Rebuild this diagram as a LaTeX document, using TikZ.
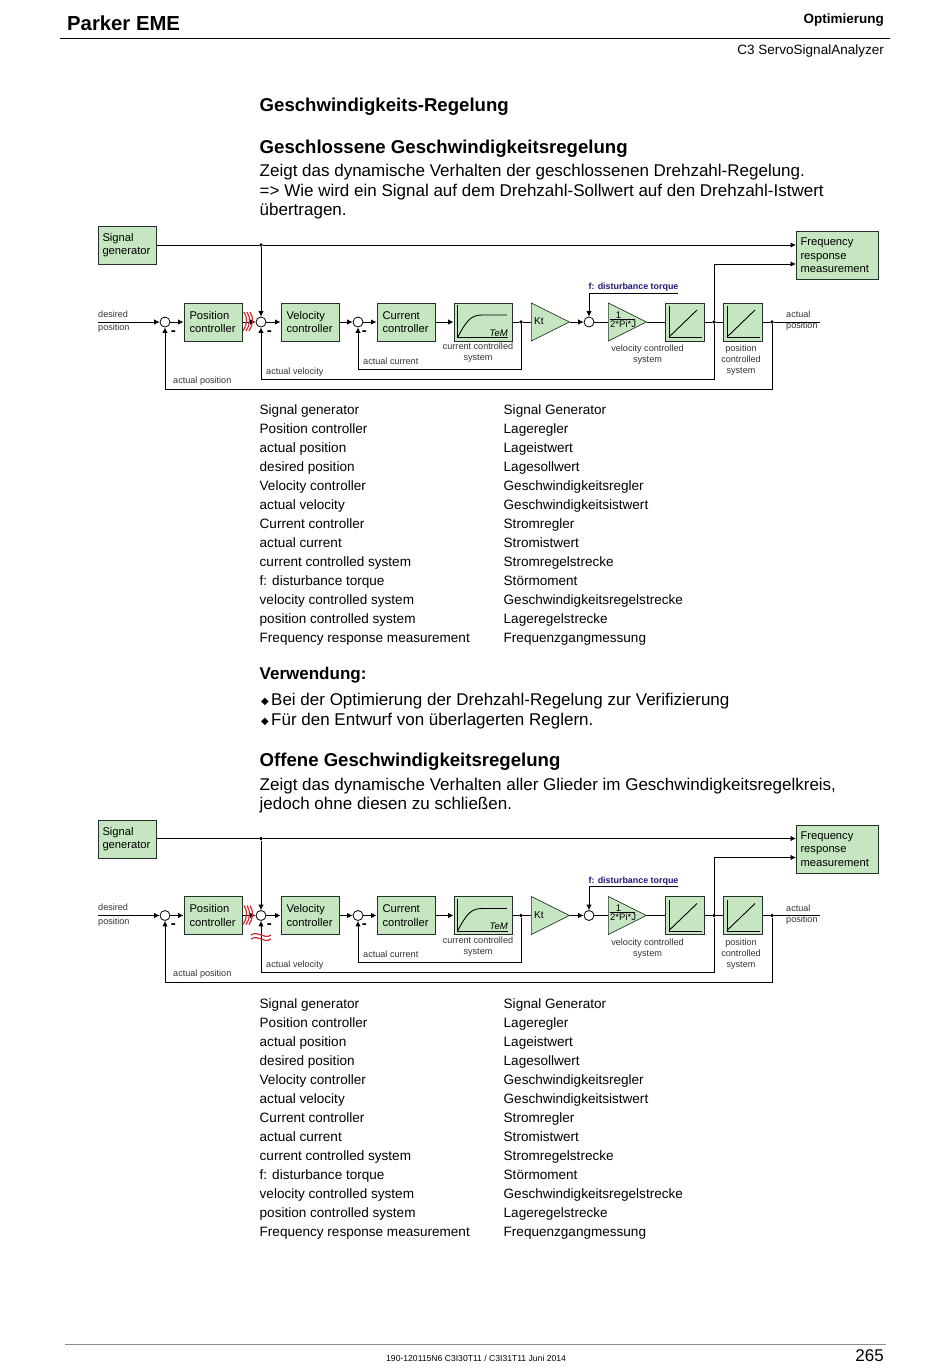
\documentclass[tikz,border=0pt]{standalone}
\usepackage{fontspec}
\setmainfont{Liberation Sans}
\newfontfamily\symbolschrift{DejaVu Sans}
\usetikzlibrary{arrows.meta, shapes.geometric}
\definecolor{gruen}{HTML}{C5E6C0}
\definecolor{rahmen}{HTML}{26302A}
\definecolor{stoerblau}{HTML}{1E1A78}
\definecolor{welle}{HTML}{D22B2B}
\tikzset{
    regler/.style={draw=rahmen, fill=gruen, line width=1pt, minimum height=38pt, text width=47pt, inner xsep=5.5pt, inner ysep=0pt, align=left, font=\fontsize{11.2}{13.5}\selectfont},
    strecke/.style={draw=rahmen, fill=gruen, line width=1pt, minimum height=38pt, inner sep=0pt},
    summe/.style={circle, draw, fill=white, minimum size=10pt, inner sep=0pt, line width=0.8pt},
    dreieck/.style={isosceles triangle, isosceles triangle stretches, draw=rahmen, fill=gruen, line width=0.7pt, minimum width=38pt, minimum height=38pt, inner sep=0pt, anchor=lower side},
    punkt/.style={circle, fill=black, minimum size=3.6pt, inner sep=0pt},
    linie/.style={line width=0.9pt},
    pfeil/.style={line width=0.9pt, -{Latex[length=5.5pt,width=5.5pt]}},
    klein/.style={inner sep=0pt, text=black!80, font=\fontsize{9.1}{11}\selectfont, align=center},
    minus/.style={inner sep=0pt, font=\fontsize{15}{15}\bfseries\selectfont},
    rechts/.style={inner sep=0pt, anchor=base east},
    fliess/.style={inner sep=0pt, anchor=base west, font=\fontsize{17}{20}\selectfont},
    titel/.style={inner sep=0pt, anchor=base west, font=\fontsize{18.6}{20}\bfseries\selectfont},
    liste/.style={inner sep=0pt, anchor=base west, font=\fontsize{13.55}{16}\selectfont},
    wellenzug/.style={draw=welle, line width=1.2pt},
}
\begin{document}
\begin{tikzpicture}[x=1pt, y=-1pt]
\useasboundingbox (0,0) rectangle (950,1369);

% Kopfzeile
\node[inner sep=0pt, anchor=base west, font=\fontsize{20.3}{20}\bfseries\selectfont] (firma) at (67,30) {Parker EME};
\node[rechts, font=\fontsize{13.5}{14}\bfseries\selectfont] (kapitel) at (884,23) {Optimierung};
\node[rechts, font=\fontsize{13.5}{14}\selectfont] (abschnitt) at (884,54) {C3 ServoSignalAnalyzer};
\draw[line width=1.1pt] (60,38.5) -- (890,38.5);

% Text oben
\node[titel] (titelA) at (259.5,111.5) {Geschwindigkeits-Regelung};
\node[titel] (titelB) at (259.5,153) {Geschlossene Geschwindigkeitsregelung};
\node[fliess] (zeileA) at (259.5,176) {Zeigt das dynamische Verhalten der geschlossenen Drehzahl-Regelung.};
\node[fliess] (zeileB) at (259.5,196) {=> Wie wird ein Signal auf dem Drehzahl-Sollwert auf den Drehzahl-Istwert};
\node[fliess] (zeileC) at (259.5,215) {übertragen.};

% Verwendung
\node[inner sep=0pt, anchor=base west, font=\fontsize{17}{20}\bfseries\selectfont] (titelC) at (259.5,679) {Verwendung:};
\node[fliess] (zeileD) at (271,705) {Bei der Optimierung der Drehzahl-Regelung zur Verifizierung};
\node[fliess] (zeileE) at (271,725) {Für den Entwurf von überlagerten Reglern.};
\foreach \y/\n in {705/A,725/B} {
    \node[inner sep=0pt, anchor=base, font=\fontsize{10}{10}\symbolschrift] (raute\n) at (265,\y-0.5) {◆};
}
\node[titel] (titelD) at (259.5,766) {Offene Geschwindigkeitsregelung};
\node[fliess] (zeileF) at (259.5,790) {Zeigt das dynamische Verhalten aller Glieder im Geschwindigkeitsregelkreis,};
\node[fliess] (zeileG) at (259.5,809) {jedoch ohne diesen zu schließen.};

% Schaltbilder: beide gleich, das zweite um 593.5 tiefer
\foreach \dy in {0,593.5} {
\begin{scope}[shift={(0,\dy)}]
\node[regler, anchor=north west, text width=50pt, inner xsep=4pt] (signal) at (98,226) {Signal\\[-0.5pt]generator};
\node[regler, anchor=north west, text width=74pt, inner xsep=4pt, minimum height=48pt] (frequenz) at (796,231) {Frequency\\response\\measurement};
\coordinate (frequenzA) at (796,245);
\coordinate (frequenzB) at (796,264);
\coordinate (ein) at (98,322);
\coordinate (aus) at (820,322);
\coordinate (stoerEnde) at (678,293);

\node[summe] (sumA) at (165,322) {};
\node[regler] (posregler) at (213,322) {Position\\controller};
\node[summe] (sumB) at (261,322) {};
\node[regler] (velregler) at (310,322) {Velocity\\controller};
\node[summe] (sumC) at (358,322) {};
\node[regler] (curregler) at (406,322) {Current\\controller};
\node[strecke, minimum width=58pt] (curstrecke) at (483,322) {};
\node[punkt] (punktC) at (521,322) {};
\node[dreieck] (kt) at (531,322) {};
\node[summe] (sumD) at (589,322) {};
\node[dreieck] (jd) at (608,322) {};
\node[strecke, minimum width=39pt] (velstrecke) at (684.5,322) {};
\node[punkt] (punktV) at (714,322) {};
\node[strecke, minimum width=39pt] (posstrecke) at (742.5,322) {};
\node[punkt] (punktP) at (772,322) {};
\node[punkt] (punktS) at (261,245) {};

% Kennlinien in den Strecken
\draw[line width=0.9pt] (457.5,305) -- (457.5,337.5) -- (508,337.5);
\draw[line width=0.9pt] (457.5,337.5) .. controls (466,322) and (470,315) .. (482,315) -- (507,315);
\foreach \x in {665,723} {
    \draw[line width=0.9pt] (\x+4,306) -- (\x+4,337.5) -- (\x+37,337.5);
    \draw[line width=0.9pt] (\x+4,337) -- (\x+32,310);
}
\node[inner sep=0pt, anchor=east, font=\fontsize{9.5}{10}\itshape\selectfont] (tem) at (508,333) {TeM};

% Beschriftung
\node[inner sep=0pt, anchor=west, font=\fontsize{10}{10}\selectfont] (ktname) at (534,321.5) {Kt};
\node[inner sep=0pt, font=\fontsize{9.5}{10}\selectfont] (jdeins) at (618.5,315) {1};
\node[inner sep=0pt, anchor=west, font=\fontsize{9.5}{10}\selectfont] (jdname) at (610,324) {2*Pi*J};
\draw[line width=0.4pt] (609.5,319) -- (634.5,319);
\node[klein, anchor=west, align=left] (wunsch) at (98,321.5) {desired\\[2.5pt]position};
\node[klein, anchor=west, align=left] (ist) at (786,321) {actual\\position};
\node[klein, anchor=west] (lblP) at (173,381) {actual position};
\node[klein, anchor=west] (lblV) at (266,372) {actual velocity};
\node[klein, anchor=west] (lblC) at (363,361) {actual current};
\node[klein] (lblCS) at (478,353) {current controlled\\system};
\node[klein] (lblVS) at (647.5,355) {velocity controlled\\system};
\node[klein] (lblPS) at (741,360.5) {position\\controlled\\system};
\node[inner sep=0pt, text=stoerblau, font=\fontsize{8.9}{10}\bfseries\selectfont] (lblF) at (633.5,287.5) {f: disturbance torque};
\node[minus] (minusA) at (173.3,333) {-};
\node[minus] (minusB) at (269.3,333) {-};
\node[minus] (minusC) at (364.3,333) {-};

% Verbindungen
\draw[linie] (signal.east |- punktS) -- (punktS);
\draw[pfeil] (punktS) -- (frequenzA);
\draw[pfeil] (punktS) -- (sumB);
\draw[pfeil] (ein) -- (sumA);
\draw[pfeil] (sumA) -- (posregler);
\draw[pfeil] (posregler) -- (sumB);
\draw[pfeil] (sumB) -- (velregler);
\draw[pfeil] (velregler) -- (sumC);
\draw[pfeil] (sumC) -- (curregler);
\draw[pfeil] (curregler) -- (curstrecke);
\draw[linie] (curstrecke) -- (punktC);
\draw[linie] (punktC) -- (kt.lower side);
\draw[pfeil] (kt.apex) -- (sumD);
\draw[linie] (sumD) -- (jd.lower side);
\draw[linie] (jd.apex) -- (velstrecke);
\draw[linie] (velstrecke) -- (punktV);
\draw[linie] (punktV) -- (posstrecke);
\draw[linie] (posstrecke) -- (punktP);
\draw[linie] (punktP) -- (aus);
\draw[pfeil] (stoerEnde) -| (sumD);
\draw[pfeil] (punktV) |- (frequenzB);
\draw[pfeil] (punktC) -- ++(0,47) -| (sumC);
\draw[pfeil] (punktV) -- ++(0,57) -| (sumB);
\draw[pfeil] (punktP) -- ++(0,67) -| (sumA);

% Unterbrechung zwischen Lageregler und Summe
\foreach \x in {244,247,250} {
    \draw[wellenzug] (\x,312) .. controls (\x+4,318) and (\x+3,325) .. (\x-1,331);
}
\end{scope}
}

% zweite Unterbrechung nur im offenen Kreis
\foreach \y in {935,939} {
    \draw[wellenzug] (251,\y) .. controls (258,\y-5) and (264,\y+5) .. (271,\y);
}

% Begriffslisten
\foreach \dy in {0,594} {
\foreach \en/\de [count=\i] in {Signal generator/Signal Generator, Position controller/Lageregler, actual position/Lageistwert, desired position/Lagesollwert, Velocity controller/Geschwindigkeitsregler, actual velocity/Geschwindigkeitsistwert, Current controller/Stromregler, actual current/Stromistwert, current controlled system/Stromregelstrecke, f: disturbance torque/Störmoment, velocity controlled system/Geschwindigkeitsregelstrecke, position controlled system/Lageregelstrecke, Frequency response measurement/Frequenzgangmessung} {
    \node[liste] (en\i) at (259.5,395+19*\i+\dy) {\en};
    \node[liste] (de\i) at (503.5,395+19*\i+\dy) {\de};
}
}

% Fusszeile
\draw[line width=0.9pt, black!45] (65,1344) -- (886,1344);
\node[inner sep=0pt, anchor=base west, font=\fontsize{8.6}{10}\selectfont] (fuss) at (386,1361) {190-120115N6 C3I30T11 / C3I31T11 Juni 2014};
\node[rechts, font=\fontsize{17}{17}\selectfont] (seite) at (884,1361) {265};
\end{tikzpicture}
\end{document}
